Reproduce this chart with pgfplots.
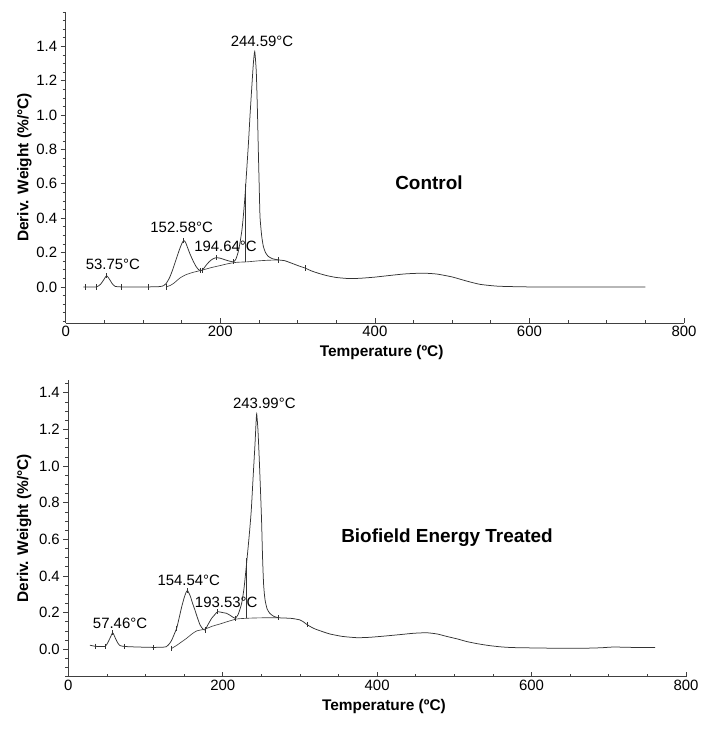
\documentclass[border=0pt]{standalone}
\usepackage{pgfplots}
\pgfplotsset{compat=1.18}
\usepackage{fontspec}
\setmainfont{Liberation Sans}

\tikzset{
  peak/.style={font=\fontsize{15}{18}\selectfont, inner sep=0pt, black},
  tag/.style={font=\fontsize{19}{22}\selectfont\bfseries, inner sep=0pt, black},
}
\pgfplotsset{
  tga/.style={
    scale only axis,
    xmin=0, xmax=800,
    axis x line*=bottom, axis y line*=left,
    axis line style={black!75, line width=0.9bp, -},
    xtick={0,200,...,800},
    minor x tick num=3,
    ytick={0,0.2,...,1.4},
    minor ytick={-0.2,-0.15,...,1.6},
    y tick label style={/pgf/number format/.cd, fixed, fixed zerofill, precision=1},
    tick label style={font=\fontsize{15}{18}\selectfont, black},
    /pgf/number format/assume math mode=true,
    xtick align=inside, ytick align=outside,
    major tick length=5bp, minor tick length=3bp,
    tick style={black!75, line width=0.7bp},
    xlabel={Temperature (ºC)},
    ylabel={Deriv. Weight (\%/°C)},
    label style={font=\fontsize{15.5}{18}\selectfont\bfseries, black},
    clip=false,
  },
  dtg/.style={black!80, line width=0.75bp, smooth, tension=0.35},
  base/.style={black!75, line width=0.65bp, smooth, tension=0.4},
  seg/.style={black!80, line width=0.65bp},
  lim/.style={only marks, mark=|, mark size=2.6bp, mark options={black!80, line width=0.7bp}},
}

\begin{document}
\begin{tikzpicture}
\path[use as bounding box] (0,0) rectangle (709bp,739bp);

% ---------------- Control ----------------
\begin{axis}[tga,
  at={(65.7bp,416bp)}, anchor=south west,
  width=618.3bp, height=311bp,
  ymin=-0.21, ymax=1.6,
  xlabel style={at={(axis description cs:0.511,-0.0965)}, anchor=center},
  ylabel style={at={(axis description cs:-0.0667,0.5)}, anchor=center},
]
\addplot[dtg] coordinates {
(23,0.0)(30,0.0)(40,0.0)(45,0.015)(49,0.04)(53,0.065)(57,0.042)(60,0.02)(64,0.003)
(72,0.0)(90,0.0)(107,0.0)(122,0.002)(127,0.008)(130,0.02)(134,0.05)(138,0.095)
(143.6,0.17)(147,0.215)(150,0.25)(152.6,0.27)(155,0.26)(158,0.225)(161,0.19)
(165,0.15)(168.5,0.12)(171.6,0.102)(174,0.095)(176.5,0.097)(179,0.11)(182.4,0.13)
(186,0.148)(190,0.162)(194.6,0.17)(200,0.167)(206,0.158)(212,0.15)(217,0.146)
(220,0.16)(223,0.2)(225.5,0.256)(228,0.33)(229.8,0.41)(232,0.53)(234.2,0.68)
(236.5,0.84)(238.5,1.0)(240.6,1.15)(242.8,1.3)(244.6,1.37)(246.6,1.25)(248.1,1.02)
(249.2,0.80)(250.3,0.6)(251.4,0.41)(253.5,0.3)(255.7,0.236)(258.5,0.2)(262,0.178)
(267,0.165)(275,0.157)(283,0.153)(290,0.142)(297,0.13)(303,0.12)(309.6,0.11)
(318,0.093)(328,0.078)(337.6,0.066)(350,0.055)(365,0.049)(380,0.05)(400,0.057)
(420,0.067)(440,0.076)(462,0.08)(480,0.075)(500,0.058)(518,0.035)(536,0.015)
(560,0.004)(600,0.0)(650,0.0)(700,0.0)(750,0.0)
};
% separated baseline under the overlapping steps
\addplot[base] coordinates {
(129.8,0.0)(135,0.008)(140,0.022)(147.9,0.052)(155,0.07)(165,0.085)(176,0.097)
(188,0.112)(199.6,0.124)(210,0.135)(221,0.143)(235,0.146)(250,0.152)(262,0.155)(275,0.157)
};
\addplot[seg] coordinates {(233,0.146)(233,0.6)};
% integration limits
\addplot[lim] coordinates {
(26,0)(40,0)(53,0.065)(72.4,0)(107,0)(129.8,0)(152.6,0.27)(174,0.095)(176.5,0.097)
(194.6,0.17)(217,0.146)(275,0.157)(309.6,0.11)
};
\node[peak] at (axis cs:254,1.427) {244.59°C};
\node[peak] at (axis cs:150,0.345) {152.58°C};
\node[peak] at (axis cs:206.8,0.234) {194.64°C};
\node[peak] at (axis cs:61,0.13) {53.75°C};
\node[tag] at (axis cs:470,0.607) {Control};
\end{axis}

% ---------------- Biofield Energy Treated ----------------
\begin{axis}[tga,
  at={(68.3bp,62.3bp)}, anchor=south west,
  width=617.7bp, height=296.7bp,
  ymin=-0.15, ymax=1.47,
  minor ytick={-0.15,-0.1,...,1.45},
  xlabel style={at={(axis description cs:0.511,-0.0988)}, anchor=center},
  ylabel style={at={(axis description cs:-0.0714,0.5)}, anchor=center},
]
\addplot[dtg] coordinates {
(28,0.022)(35,0.016)(47.5,0.015)(51,0.035)(54.5,0.065)(57.5,0.09)(61,0.06)(64,0.035)
(67,0.02)(73,0.015)(90,0.012)(110,0.01)(122,0.011)(127,0.014)(131,0.03)(134,0.05)
(137,0.08)(140.4,0.115)(143.5,0.17)(146.9,0.232)(150,0.28)(152.5,0.31)(154.5,0.32)
(158,0.29)(161,0.25)(164,0.214)(167,0.175)(170.6,0.133)(174,0.112)(177,0.105)
(181,0.135)(185.7,0.169)(190,0.19)(193.5,0.205)(200,0.2)(205,0.196)(210,0.184)
(216,0.169)(220,0.19)(224.5,0.25)(227.5,0.33)(230,0.43)(232.3,0.53)(234.5,0.63)
(237,0.76)(239.5,0.95)(241.8,1.12)(243.2,1.24)(244,1.285)(245.6,1.2)(247.2,1.05)
(248.8,0.88)(250.3,0.705)(251.6,0.5)(253,0.35)(254.8,0.27)(257.5,0.22)(261,0.196)
(266,0.18)(272,0.172)(282,0.17)(290,0.168)(300,0.16)(305,0.148)(309,0.135)
(315,0.12)(320,0.11)(330,0.095)(339,0.083)(355,0.07)(373.6,0.063)(390,0.065)
(410,0.072)(430,0.08)(447,0.087)(464,0.09)(478,0.083)(490,0.07)(505,0.055)
(516,0.042)(530,0.03)(545,0.02)(560,0.013)(576,0.009)(620,0.006)(663,0.005)
(690,0.008)(706,0.012)(730,0.01)(760,0.009)
};
\addplot[base] coordinates {
(134,0.005)(140,0.02)(146,0.038)(153.3,0.06)(160,0.083)(166.3,0.1)(177,0.11)
(186,0.125)(196.5,0.138)(207,0.152)(218,0.165)(231,0.169)(245,0.171)(260,0.172)(272,0.172)
};
\addplot[seg] coordinates {(231,0.169)(231,0.5)};
\addplot[lim] coordinates {
(34.5,0.016)(47.5,0.015)(57.5,0.09)(73,0.015)(110,0.01)(134,0.005)(140.4,0.115)
(154.5,0.32)(178,0.105)(193.5,0.205)(216,0.169)(272,0.172)(309,0.135)
};
\node[peak] at (axis cs:253.9,1.342) {243.99°C};
\node[peak] at (axis cs:156,0.378) {154.54°C};
\node[peak] at (axis cs:204.5,0.254) {193.53°C};
\node[peak] at (axis cs:67,0.142) {57.46°C};
\node[tag] at (axis cs:490.5,0.607) {Biofield Energy Treated};
\end{axis}
\end{tikzpicture}
\end{document}
